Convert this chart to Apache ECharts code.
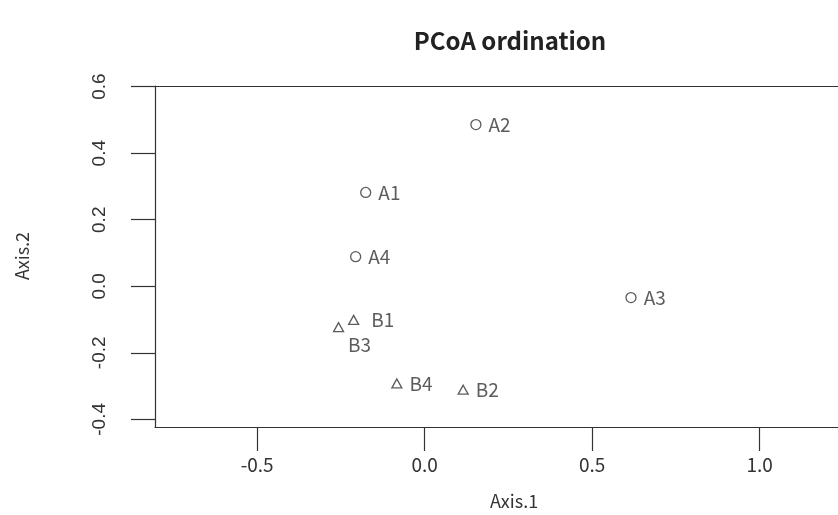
<!DOCTYPE html>
<html>
<head>
<meta charset="utf-8">
<script src="https://cdn.jsdelivr.net/npm/echarts@6/dist/echarts.min.js"></script>
<style>
  html, body { margin: 0; padding: 0; background: #fff; }
  #chart { width: 838px; height: 515px; }
</style>
</head>
<body>
<div id="chart"></div>
<script>
// PCoA sample scores on the first two axes
const sampleNames = ['A1', 'A2', 'A3', 'A4', 'B1', 'B2', 'B3', 'B4'];
const sampleGroups = ['A', 'A', 'A', 'A', 'B', 'B', 'B', 'B'];
const axis1Scores = [-0.176, 0.153, 0.616, -0.206, -0.212, 0.115, -0.257, -0.083];
const axis2Scores = [0.282, 0.486, -0.034, 0.089, -0.101, -0.311, -0.123, -0.292];
const xTicks = [-0.5, 0.0, 0.5, 1.0];
const yTicks = [-0.4, -0.2, 0.0, 0.2, 0.4, 0.6];

const ink = '#333333';
const labelFont = '"Noto Sans CJK SC", "Noto Sans", sans-serif';
const frameLine = { show: true, onZero: false, lineStyle: { color: ink, width: 1.2 } };

// Per-sample label placement so overlapping names stay readable
const labelPlacement = {
  B1: { position: 'right', distance: 12 },
  B3: { position: 'bottom', distance: 3, offset: [21, 0] }
};

function groupPoints(group) {
  const pts = [];
  sampleNames.forEach((name, i) => {
    if (sampleGroups[i] !== group) return;
    const item = { name: name, value: [axis1Scores[i], axis2Scores[i]] };
    if (labelPlacement[name]) item.label = labelPlacement[name];
    pts.push(item);
  });
  return pts;
}

const pointLabel = {
  show: true,
  position: 'right',
  distance: 7,
  formatter: p => p.name,
  color: ink,
  fontFamily: labelFont,
  fontSize: 19
};

const chart = echarts.init(document.getElementById('chart'), null, { renderer: 'canvas' });

chart.setOption({
  animation: false,
  backgroundColor: '#ffffff',
  title: {
    text: 'PCoA ordination',
    left: 505,
    top: 24,
    textAlign: 'center',
    textStyle: { fontFamily: labelFont, fontWeight: 'bold', fontSize: 24, color: '#222' }
  },
  grid: {
    left: 155,
    top: 86,
    right: 0,
    height: 341,
    show: false
  },
  xAxis: [
    {
      type: 'value',
      position: 'bottom',
      min: -0.805,
      max: 1.234,
      splitLine: { show: false },
      axisLine: frameLine,
      axisTick: {
        show: true, length: 24, inside: false,
        lineStyle: { color: ink, width: 1.2 },
        customValues: xTicks
      },
      axisLabel: {
        customValues: xTicks,
        formatter: v => v.toFixed(1),
        margin: 28,
        color: ink,
        fontFamily: labelFont,
        fontSize: 19
      }
    },
    {
      // top edge of the plot frame
      type: 'value',
      position: 'top',
      min: -0.805,
      max: 1.234,
      splitLine: { show: false },
      axisLine: frameLine,
      axisTick: { show: false },
      axisLabel: { show: false }
    }
  ],
  yAxis: {
    type: 'value',
    min: -0.423,
    max: 0.602,
    splitLine: { show: false },
    axisLine: frameLine,
    axisTick: {
      show: true, length: 24, inside: false,
      lineStyle: { color: ink, width: 1.2 },
      customValues: yTicks
    },
    axisLabel: {
      customValues: yTicks,
      formatter: v => v.toFixed(1),
      rotate: 90,
      margin: 46,
      color: ink,
      fontFamily: '"Liberation Sans", Arial, sans-serif',
      fontSize: 19
    }
  },
  graphic: [
    {
      type: 'text',
      left: 490, top: 492,
      style: { text: 'Axis.1', fill: ink, font: '18px ' + labelFont, textAlign: 'center' }
    },
    {
      type: 'text',
      x: 22, y: 256,
      rotation: Math.PI / 2,
      style: {
        text: 'Axis.2', fill: ink, font: '18px ' + labelFont,
        align: 'center', verticalAlign: 'middle'
      }
    }
  ],
  series: [
    {
      name: 'A',
      type: 'scatter',
      symbol: 'circle',
      symbolSize: 10,
      itemStyle: { color: 'transparent', borderColor: ink, borderWidth: 1.3 },
      label: pointLabel,
      data: groupPoints('A')
    },
    {
      name: 'B',
      type: 'scatter',
      symbol: 'triangle',
      symbolSize: [10, 9],
      itemStyle: { color: 'transparent', borderColor: ink, borderWidth: 1.3 },
      label: pointLabel,
      data: groupPoints('B')
    }
  ]
});
</script>
</body>
</html>
